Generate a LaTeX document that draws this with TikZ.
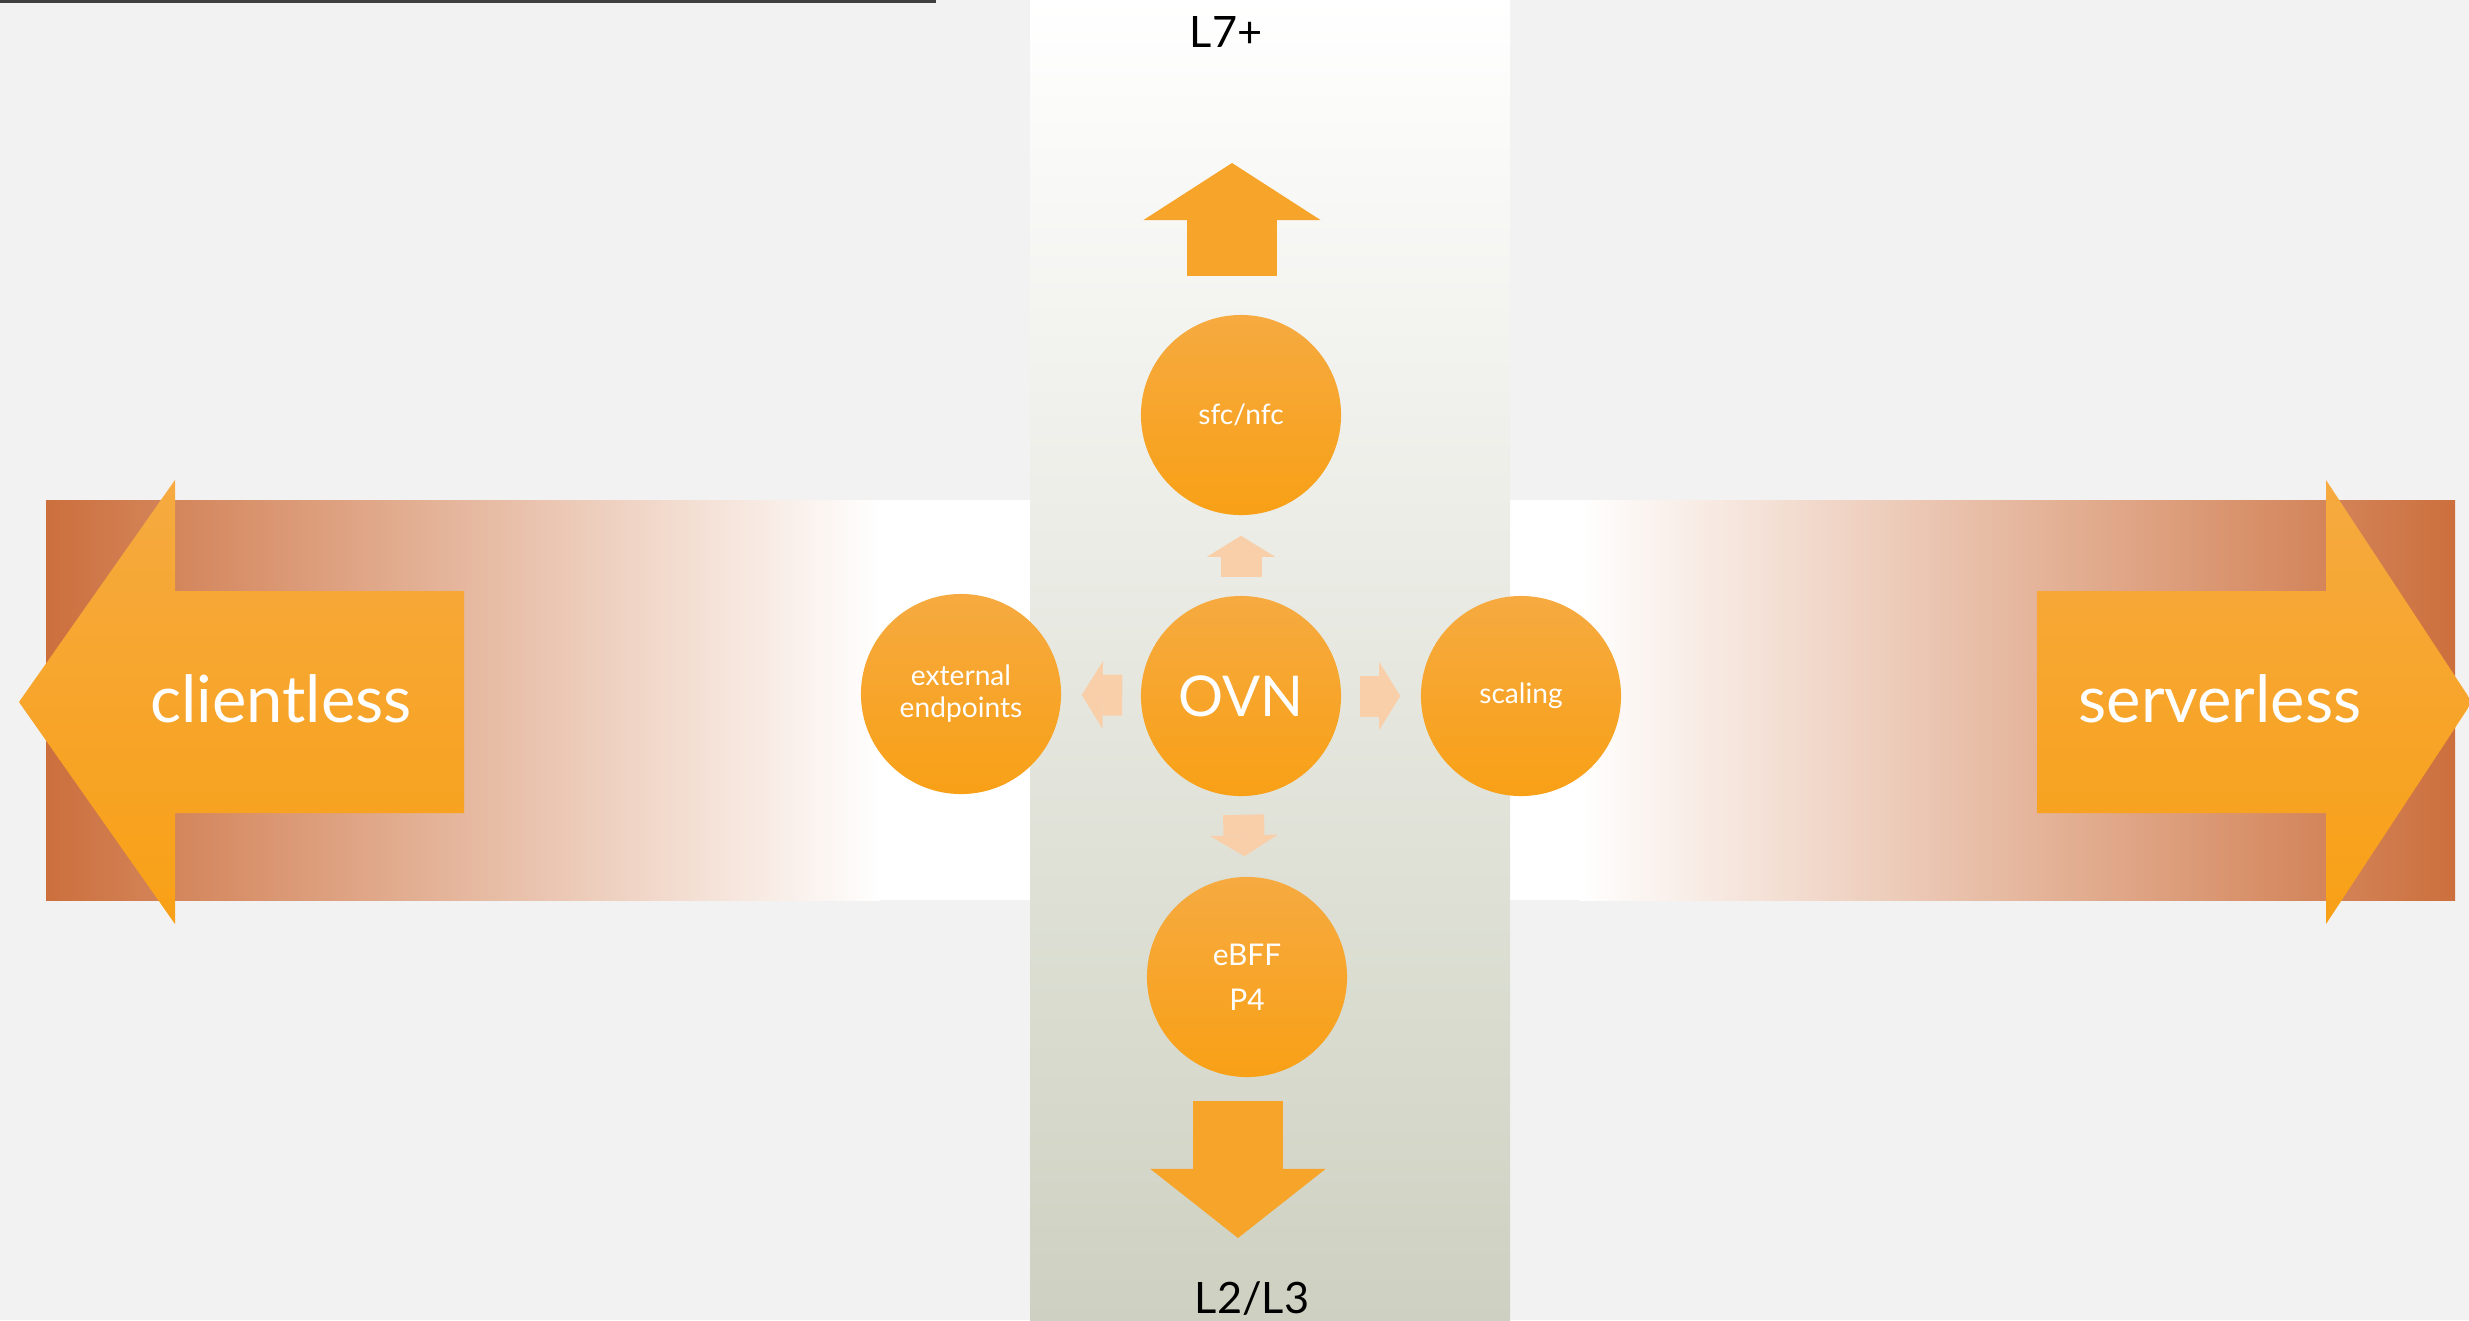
\documentclass[tikz,border=0pt]{standalone}
\usepackage{fontspec}
\setmainfont{Lato}
\usetikzlibrary{arrows.meta}

\definecolor{pageGray}{RGB}{242,242,242}
\definecolor{ruleGray}{RGB}{64,64,64}
\definecolor{bandOrange}{RGB}{204,111,61}
\definecolor{bandSage}{RGB}{206,209,193}
\definecolor{orangeTop}{RGB}{246,170,64}
\definecolor{orangeBot}{RGB}{248,160,22}
\definecolor{orangeMid}{RGB}{247,165,42}
\definecolor{peach}{RGB}{249,207,170}

\begin{document}
\begin{tikzpicture}[x=0.01cm, y=-0.01cm,
    bubble/.style={circle, minimum size=2cm, inner sep=0pt, top color=orangeTop, bottom color=orangeBot, text=white, align=center},
    minor arrow/.style={draw=peach, line width=0.41cm, -{Triangle[length=0.21cm, width=0.68cm, line width=0pt]}, shorten <=0.18cm, shorten >=0.2cm},
    major arrow/.style={draw=orangeMid, line width=0.89cm},
    big label/.style={anchor=base, text=white, font=\fontsize{18.5}{22}\selectfont},
    layer label/.style={anchor=base, font=\fontsize{12.3}{14}\selectfont}
]
    % Page
    \useasboundingbox (0,0) rectangle (2469,1320);
    \fill[pageGray] (0,0) rectangle (2469,1320);

    % Horizontal band
    \shade[left color=bandOrange, right color=white] (46,500) rectangle (880,900);
    \fill[white] (880,500) rectangle (1030,900);
    \fill[white] (1510,500) rectangle (1580,900);
    \shade[left color=white, right color=bandOrange] (1580,500) rectangle (2455,900);

    % Vertical band
    \shade[top color=white, bottom color=bandSage] (1030,0) rectangle (1510,1320);

    % Rule at the top
    \draw[ruleGray, line width=0.03cm] (0,1.5) -- (936,1.5);

    % Big side arrows
    \shade[top color=orangeTop, bottom color=orangeBot] (19,702) -- (175,480) -- (175,591) -- (464,591)
        -- (464,813) -- (175,813) -- (175,924) -- cycle;
    \shade[top color=orangeTop, bottom color=orangeBot] (2472,702) -- (2326,480) -- (2326,591) -- (2037,591)
        -- (2037,813) -- (2326,813) -- (2326,924) -- cycle;
    \node[big label] (client) at (281,722) {clientless};
    \node[big label] (server) at (2220,722) {serverless};

    % Bubbles
    \node[bubble, font=\fontsize{16}{19}\selectfont] (ovn) at (1241,696) {OVN};
    \node[bubble, font=\fontsize{8}{9.5}\selectfont] (sfc) at (1241,415) {sfc/nfc};
    \node[bubble, font=\fontsize{8}{9.1}\selectfont] (ext) at (961,694) {external\\endpoints};
    \node[bubble, font=\fontsize{8}{9.5}\selectfont] (scal) at (1521,696) {scaling};
    \node[bubble, font=\fontsize{8.5}{12.8}\selectfont] (ebpf) at (1247,977) {eBFF\\P4};

    % Small arrows out of OVN
    \draw[minor arrow] (ovn) -- (sfc);
    \draw[minor arrow] (ovn) -- (ext);
    \draw[minor arrow] (ovn) -- (scal);
    \draw[minor arrow] (ovn) -- (ebpf);

    % Layer arrows
    \node[layer label] (l7) at (1226,47) {L7+};
    \node[layer label] (l23) at (1252,1313) {L2/L3};
    \coordinate (l7tip) at (1232,163);
    \coordinate (l23tip) at (1238,1238);
    \draw[major arrow, -{Triangle[length=0.57cm, width=1.77cm, line width=0pt]}, shorten <=0.38cm]
        (l7tip |- sfc.north) -- (l7tip);
    \draw[major arrow, -{Triangle[length=0.69cm, width=1.75cm, line width=0pt]}, shorten <=0.23cm]
        (l23tip |- ebpf.south) -- (l23tip);
\end{tikzpicture}
\end{document}
